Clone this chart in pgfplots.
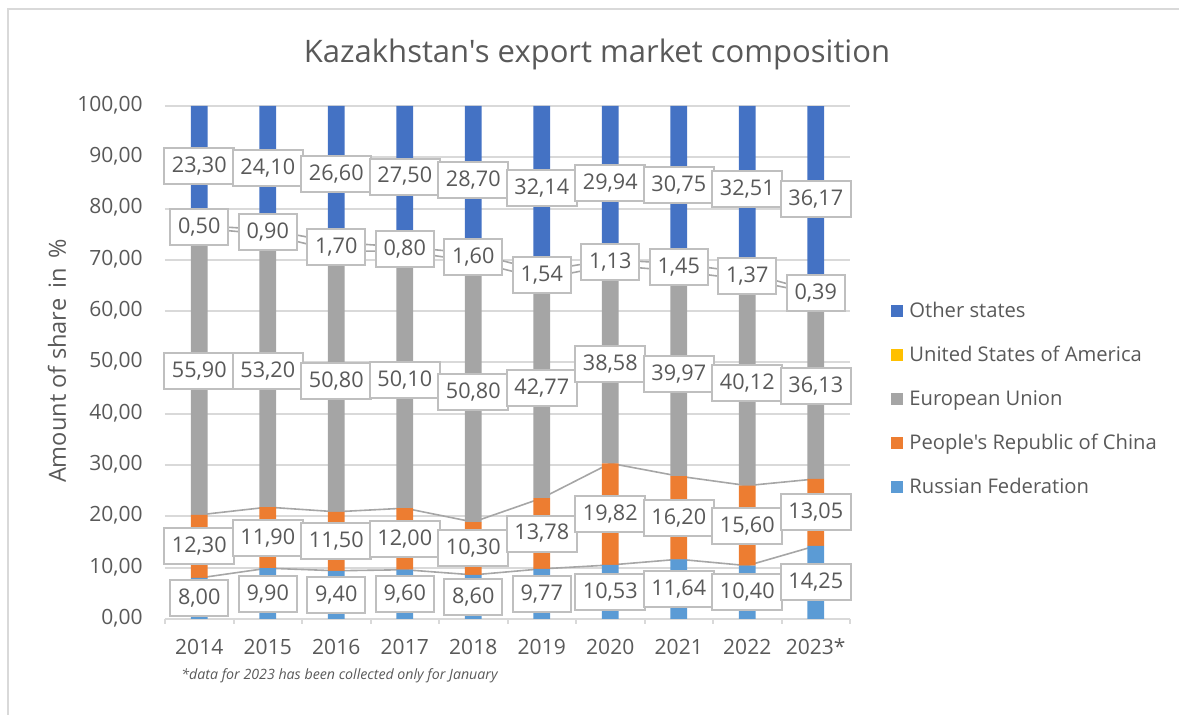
\documentclass[border=0pt]{standalone}
\usepackage{fontspec}
\setmainfont{Open Sans}[Ligatures=TeXOff]
\usepackage{pgfplots}
\usepackage{pgfplotstable}
\pgfplotsset{compat=1.18}

\definecolor{ruc}{HTML}{5B9BD5}
\definecolor{cnc}{HTML}{ED7D31}
\definecolor{euc}{HTML}{A5A5A5}
\definecolor{usc}{HTML}{FFC000}
\definecolor{otc}{HTML}{4472C4}
\definecolor{txt}{HTML}{595959}
\definecolor{gridc}{HTML}{D9D9D9}
\definecolor{boxc}{HTML}{BFBFBF}
\definecolor{serc}{HTML}{A6A6A6}

\newcommand\tck{\fontsize{10.5}{12}\selectfont}
\newcommand\lab{\fontsize{10.8}{12}\selectfont}
\newcommand\leg{\fontsize{10.1}{12}\selectfont}

\pgfkeys{/pgf/number format/assume math mode=true}

% shares in %, 2014 .. 2023 (x = 0..9)
\pgfplotstableread{
x ru    cn    eu    us   ot
0 8.00  12.30 55.90 0.50 23.30
1 9.90  11.90 53.20 0.90 24.10
2 9.40  11.50 50.80 1.70 26.60
3 9.60  12.00 50.10 0.80 27.50
4 8.60  10.30 50.80 1.60 28.70
5 9.77  13.78 42.77 1.54 32.14
6 10.53 19.82 38.58 1.13 29.94
7 11.64 16.20 39.97 1.45 30.75
8 10.40 15.60 40.12 1.37 32.51
9 14.25 13.05 36.13 0.39 36.17
}\data

\pgfplotsset{
  base/.style={
    width=342.5pt, height=256.5pt, scale only axis,
    at={(82.5pt,48pt)}, anchor=south west,
    xmin=-0.5, xmax=9.5, ymin=0, ymax=100,
  },
  serline/.style={serc, line width=0.8pt},
}

\begin{document}
\begin{tikzpicture}
\path[use as bounding box] (0,0) rectangle (589.5pt,357.5pt);
\draw[gridc, line width=1pt] (4pt,0) -- (4pt,353pt) -- (589.5pt,353pt);

\node[font=\fontsize{15.5}{18}\selectfont, text=txt] at (298.5pt,330.5pt)
  {Kazakhstan's export market composition};
\node[rotate=90, font=\fontsize{11.8}{13}\selectfont, text=txt] at (28.5pt,177pt)
  {Amount of share\hspace{0.42em}in\hspace{0.42em}\%};
\node[anchor=west, inner sep=0pt, font=\fontsize{7.1}{8}\selectfont\itshape, text=txt] at (90.5pt,19.5pt)
  {*data for 2023 has been collected only for January};

% grid, ticks and series lines
\begin{axis}[base,
  axis x line*=bottom, axis y line*=left,
  y axis line style={draw=none},
  x axis line style={draw=gridc, line width=1pt, -},
  ymajorgrids, grid style={gridc, line width=1pt},
  tick style={draw=gridc, line width=1pt},
  major tick length=0pt,
  ytick={0,10,...,100},
  yticklabel={\pgfmathprintnumber[fixed,fixed zerofill,precision=2,use comma]{\tick}},
  yticklabel style={anchor=mid east, inner sep=0pt, xshift=-11pt, text=txt, font=\tck},
  xtick={0,...,9},
  xticklabels={2014,2015,2016,2017,2018,2019,2020,2021,2022,2023*},
  xticklabel style={anchor=base, yshift=-18pt, text=txt, font=\tck},
  extra x ticks={-0.5,0.5,...,9.5},
  extra x tick labels={},
  extra x tick style={grid=none, major tick length=2.5pt, tick align=outside},
]
\addplot[serline] table[x=x, y expr=\thisrow{ru}] \data;
\addplot[serline] table[x=x, y expr=\thisrow{ru}+\thisrow{cn}] \data;
\addplot[serline] table[x=x, y expr=\thisrow{ru}+\thisrow{cn}+\thisrow{eu}] \data;
\addplot[serline] table[x=x, y expr=\thisrow{ru}+\thisrow{cn}+\thisrow{eu}+\thisrow{us}] \data;
\end{axis}

% stacked bars and legend
\begin{axis}[base, hide axis,
  ybar stacked, bar width=8.3pt,
  reverse legend,
  legend cell align=left,
  legend image code/.code={\fill[#1] (0pt,-3pt) rectangle (6pt,3pt);},
  legend style={at={(axis description cs:1.0599,0.6433)}, anchor=north west,
    draw=none, fill=none, inner sep=0pt, font=\leg, text=txt,
    nodes={inner sep=0pt, minimum height=22pt, anchor=west},
    /tikz/every odd column/.append style={column sep=3pt}},
]
\addplot[fill=ruc, draw=none] table[x=x, y=ru] \data;
\addplot[fill=cnc, draw=none] table[x=x, y=cn] \data;
\addplot[fill=euc, draw=none] table[x=x, y=eu] \data;
\addplot[fill=usc, draw=none] table[x=x, y=us] \data;
\addplot[fill=otc, draw=none] table[x=x, y=ot] \data;
\legend{Russian Federation, People's Republic of China, European Union, United States of America, Other states}
\end{axis}

% boxed value labels at the middle of each segment
\begin{axis}[base, hide axis, clip=false,
  nodes near coords,
  every node near coord/.append style={anchor=center, fill=white, draw=boxc,
    line width=1pt, text=txt, font=\lab, inner xsep=3.8pt, inner ysep=0pt,
    minimum height=18pt},
  /pgf/number format/.cd, fixed, fixed zerofill, precision=2, use comma,
]
\addplot[draw=none, mark=none, point meta=\thisrow{ru}]
  table[x=x, y expr=\thisrow{ru}/2] \data;
\addplot[draw=none, mark=none, point meta=\thisrow{cn}]
  table[x=x, y expr=\thisrow{ru}+\thisrow{cn}/2] \data;
\addplot[draw=none, mark=none, point meta=\thisrow{eu}]
  table[x=x, y expr=\thisrow{ru}+\thisrow{cn}+\thisrow{eu}/2] \data;
\addplot[draw=none, mark=none, point meta=\thisrow{us}]
  table[x=x, y expr=\thisrow{ru}+\thisrow{cn}+\thisrow{eu}+\thisrow{us}/2] \data;
\addplot[draw=none, mark=none, point meta=\thisrow{ot}]
  table[x=x, y expr=\thisrow{ru}+\thisrow{cn}+\thisrow{eu}+\thisrow{us}+\thisrow{ot}/2] \data;
\end{axis}
\end{tikzpicture}
\end{document}
